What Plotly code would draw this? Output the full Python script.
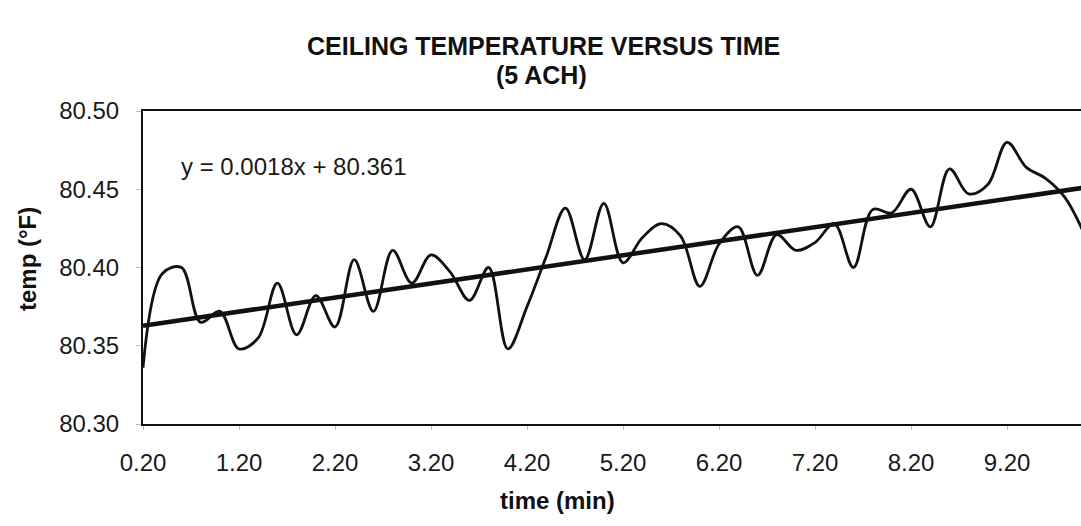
import plotly.graph_objects as go

# ---- data ----
time_min = [round(0.2 * (i + 1), 2) for i in range(50)]
temp_f = [80.336, 80.396, 80.400, 80.365, 80.372, 80.348, 80.355, 80.390, 80.357, 80.382,
          80.362, 80.405, 80.372, 80.411, 80.390, 80.408, 80.397, 80.379, 80.400, 80.348,
          80.375, 80.407, 80.438, 80.405, 80.441, 80.403, 80.419, 80.428, 80.420, 80.388,
          80.415, 80.426, 80.395, 80.421, 80.411, 80.416, 80.428, 80.400, 80.437, 80.435,
          80.450, 80.426, 80.463, 80.447, 80.453, 80.480, 80.464, 80.457, 80.445, 80.422]
x_tick_vals = [0.2, 1.2, 2.2, 3.2, 4.2, 5.2, 6.2, 7.2, 8.2, 9.2]
x_tick_text = ["0.20", "1.20", "2.20", "3.20", "4.20", "5.20", "6.20", "7.20", "8.20", "9.20"]
y_tick_vals = [80.30, 80.35, 80.40, 80.45, 80.50]
y_tick_text = ["80.30", "80.35", "80.40", "80.45", "80.50"]
trend_slope = 0.0018
trend_intercept = 80.361

# trend line: Excel linear fit over the point index (1..n)
trend_x = [time_min[0], time_min[-1]]
trend_y = [trend_slope * 1 + trend_intercept, trend_slope * len(time_min) + trend_intercept]

FONT = "Liberation Sans, Arial, sans-serif"
TXT = "#1a1a1a"

fig = go.Figure()
fig.add_trace(go.Scatter(x=time_min, y=temp_f, mode="lines",
                         line=dict(color="#111111", width=2.8, shape="spline", smoothing=1.0),
                         showlegend=False, hoverinfo="x+y"))
fig.add_trace(go.Scatter(x=trend_x, y=trend_y, mode="lines",
                         line=dict(color="#111111", width=4.5),
                         showlegend=False, hoverinfo="skip"))

def px_x(px):
    return (px - 143) / 938

def px_y(py):
    return (424 - py) / 313

fig.update_layout(
    width=1081, height=526,
    margin=dict(l=143, r=0, t=111, b=102),
    paper_bgcolor="white", plot_bgcolor="white",
    font=dict(family=FONT, color=TXT, size=24),
    xaxis=dict(range=[0.2, 9.97], tickvals=x_tick_vals, ticktext=x_tick_text,
               showline=True, linecolor="#111111", linewidth=2, mirror=True,
               ticks="outside", ticklen=4, tickcolor="#bbbbbb", tickwidth=1,
               showgrid=False, zeroline=False, ticklabelstandoff=12,
               tickfont=dict(family=FONT, size=24, color=TXT)),
    yaxis=dict(range=[80.30, 80.50], tickvals=y_tick_vals, ticktext=y_tick_text,
               showline=True, linecolor="#111111", linewidth=2, mirror=False,
               ticks="outside", ticklen=5, tickcolor="#bbbbbb", tickwidth=1,
               showgrid=False, zeroline=False, ticklabelstandoff=12,
               tickfont=dict(family=FONT, size=24, color=TXT)),
    annotations=[
        dict(text="<b>CEILING TEMPERATURE VERSUS TIME</b>", xref="paper", yref="paper",
             x=px_x(543), y=px_y(46), yanchor="middle", xanchor="center", showarrow=False,
             font=dict(family=FONT, size=25, color="#111111")),
        dict(text="<b>(5 ACH)</b>", xref="paper", yref="paper",
             x=px_x(541), y=px_y(75), yanchor="middle", xanchor="center", showarrow=False,
             font=dict(family=FONT, size=25, color="#111111")),
        dict(text="y = 0.0018x + 80.361", xref="paper", yref="paper",
             x=px_x(179), y=px_y(166), yanchor="middle", xanchor="left", showarrow=False,
             font=dict(family=FONT, size=24, color=TXT)),
        dict(text="<b>time (min)</b>", xref="paper", yref="paper",
             x=px_x(557), y=px_y(500), yanchor="middle", xanchor="center", showarrow=False,
             font=dict(family=FONT, size=24, color="#111111")),
        dict(text="<b>temp (°F)</b>", xref="paper", yref="paper", textangle=-90,
             x=px_x(27), y=px_y(259), yanchor="middle", xanchor="center", showarrow=False,
             font=dict(family=FONT, size=24, color="#111111")),
    ],
)

fig.write_html("out.html")
